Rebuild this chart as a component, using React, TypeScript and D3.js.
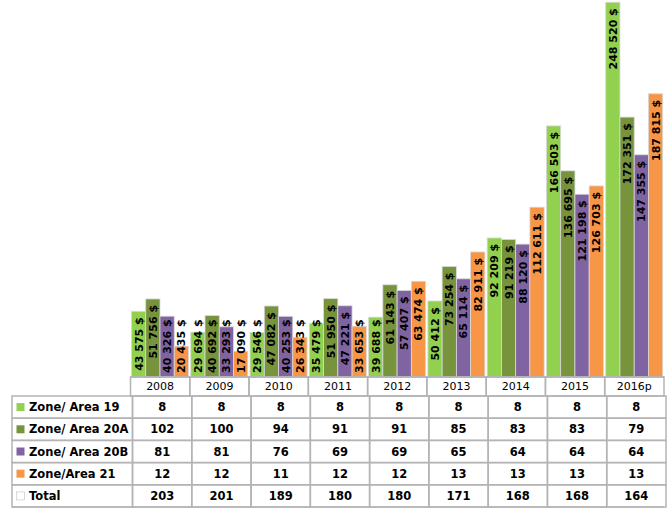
import * as d3 from "d3";

// ---- data ----
const years = ["2008", "2009", "2010", "2011", "2012", "2013", "2014", "2015", "2016p"];
const seriesNames = ["Zone/ Area 19", "Zone/ Area 20A", "Zone/ Area 20B", "Zone/Area 21"];
const seriesColors = ["#92D050", "#77933C", "#8064A2", "#F79646"];

const zone19 = [43575, 29694, 29546, 35479, 39688, 50412, 92209, 166503, 248520];
const zone20A = [51756, 40692, 47082, 51950, 61143, 73254, 91219, 136695, 172351];
const zone20B = [40326, 33293, 40253, 47221, 57407, 65114, 88120, 121198, 147355];
const zone21 = [20435, 17090, 26343, 33653, 63474, 82911, 112611, 126703, 187815];

const count19 = [8, 8, 8, 8, 8, 8, 8, 8, 8];
const count20A = [102, 100, 94, 91, 91, 85, 83, 83, 79];
const count20B = [81, 81, 76, 69, 69, 65, 64, 64, 64];
const count21 = [12, 12, 11, 12, 12, 13, 13, 13, 13];
const countTotal = [203, 201, 189, 180, 180, 171, 168, 168, 164];

const amounts = [zone19, zone20A, zone20B, zone21];
const tableRows = [
  { label: seriesNames[0], color: seriesColors[0], values: count19 },
  { label: seriesNames[1], color: seriesColors[1], values: count20A },
  { label: seriesNames[2], color: seriesColors[2], values: count20B },
  { label: seriesNames[3], color: seriesColors[3], values: count21 },
  { label: "Total", color: "#ffffff", values: countTotal },
];

// ---- layout ----
const W = 672;
const H = 526;
const baseY = 377;
const headerH = 19;
const rowH = 22.2;
const tableLeft = 12;
const FONT = "'DejaVu Sans', Verdana, sans-serif";
const GRID = "#b4b4b4";
const LABEL_SIZE = 11;
const TABLE_SIZE = 11.5;

const x = d3.scaleBand<string>().domain(years).range([130.5, 664]).padding(0);
const xSub = d3.scaleBand<number>().domain([0, 1, 2, 3]).range([1, x.bandwidth() - 1.3]).padding(0);
const y = d3.scaleLinear().domain([0, 250000]).range([baseY, 0]);

const fmtNum = (v: number) => d3.format(",")(v).replace(/,/g, " ") + " $";

let ctx: CanvasRenderingContext2D | null = null;
function textW(s: string) {
  if (!ctx) ctx = document.createElement("canvas").getContext("2d");
  if (!ctx) return s.length * 6.8;
  ctx.font = `bold ${LABEL_SIZE}px 'DejaVu Sans'`;
  return ctx.measureText(s).width;
}

export default function App() {
  const tableTop = baseY + headerH;
  const tableBottom = tableTop + rowH * tableRows.length;
  const xRight = x.range()[1];

  return (
    <svg width={W} height={H} style={{ position: "absolute", left: 0, top: 0, background: "#fff" }}>
      {/* bars */}
      {amounts.map((vals, si) =>
        vals.map((v, i) => {
          const bx = x(years[i])! + xSub(si)!;
          return (
            <rect key={`b${si}-${i}`} x={bx} y={y(v)} width={xSub.bandwidth()} height={baseY - y(v)}
              fill={seriesColors[si]} stroke="#d9d9d9" strokeWidth={0.8} />
          );
        })
      )}

      {/* bar labels: inside end, pushed up from the axis when the bar is too short */}
      {amounts.map((vals, si) =>
        vals.map((v, i) => {
          const s = fmtNum(v);
          const len = textW(s);
          const cx = x(years[i])! + xSub(si)! + xSub.bandwidth() / 2;
          const y0 = Math.min(baseY - 4, y(v) + 6 + len);
          return (
            <text key={`l${si}-${i}`} transform={`translate(${cx},${y0}) rotate(-90)`} dy="0.36em"
              fontFamily={FONT} fontWeight="bold" fontSize={LABEL_SIZE} fill="#000">
              {s}
            </text>
          );
        })
      )}

      {/* header row (category axis) */}
      <line x1={x.range()[0]} x2={xRight} y1={baseY} y2={baseY} stroke={GRID} strokeWidth={1.5} />
      {years.map((yr) => (
        <g key={`h${yr}`}>
          <rect x={x(yr)!} y={baseY} width={x.bandwidth()} height={headerH} fill="none" stroke={GRID} strokeWidth={1.5} />
          <text x={x(yr)! + x.bandwidth() / 2} y={baseY + headerH / 2} dy="0.36em" textAnchor="middle"
            fontFamily={FONT} fontSize={11} fill="#000">
            {yr}
          </text>
        </g>
      ))}

      {/* data table */}
      {tableRows.map((r, ri) => {
        const ry = tableTop + ri * rowH;
        return (
          <g key={`r${ri}`}>
            <rect x={tableLeft} y={ry} width={x.range()[0] - tableLeft + 2} height={rowH} fill="none" stroke={GRID} strokeWidth={1.5} />
            <rect x={16.5} y={ry + rowH / 2 - 4} width={8} height={8} fill={r.color}
              stroke={r.label === "Total" ? "#d0d0d0" : "none"} strokeWidth={0.8} />
            <text x={29} y={ry + rowH / 2} dy="0.36em" fontFamily={FONT} fontWeight="bold" fontSize={TABLE_SIZE} fill="#000">
              {r.label}
            </text>
            {r.values.map((v, i) => (
              <g key={`c${ri}-${i}`}>
                <rect x={x(years[i])! + 2} y={ry} width={x.bandwidth()} height={rowH} fill="none" stroke={GRID} strokeWidth={1.5} />
                <text x={x(years[i])! + 2 + x.bandwidth() / 2} y={ry + rowH / 2} dy="0.36em" textAnchor="middle"
                  fontFamily={FONT} fontWeight="bold" fontSize={TABLE_SIZE} fill="#000">
                  {v}
                </text>
              </g>
            ))}
          </g>
        );
      })}
      <line x1={tableLeft} x2={xRight} y1={tableBottom} y2={tableBottom} stroke={GRID} strokeWidth={1.5} />
    </svg>
  );
}
